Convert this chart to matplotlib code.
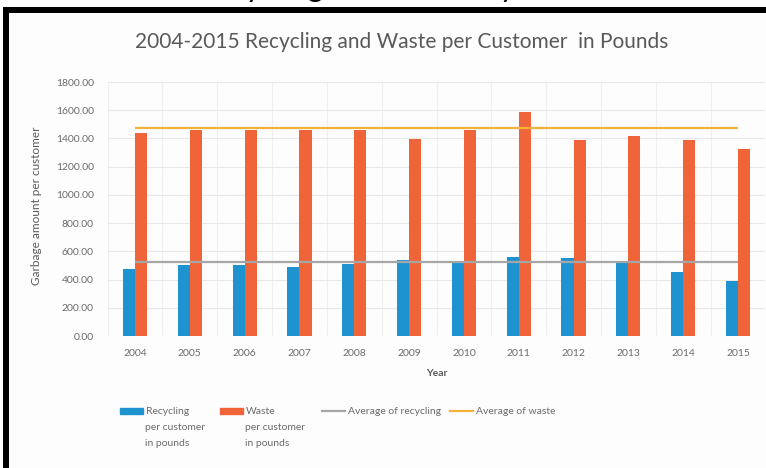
import matplotlib
matplotlib.use("Agg")
import matplotlib.pyplot as plt
from matplotlib.patches import Rectangle, Patch
from matplotlib.lines import Line2D
import numpy as np

plt.rcParams['font.family'] = ['Lato', 'DejaVu Sans']

years = ["2004", "2005", "2006", "2007", "2008", "2009",
         "2010", "2011", "2012", "2013", "2014", "2015"]
recycling = [477, 505, 500, 490, 510, 540, 520, 562, 555, 519, 455, 391]
waste = [1437, 1458, 1458, 1458, 1458, 1394, 1458, 1586, 1387, 1415, 1387, 1323]
avg_recycling = 522
avg_waste = 1476
y_ticks = [0, 200, 400, 600, 800, 1000, 1200, 1400, 1600, 1800]

W, H = 766, 468
BLUE = "#1f93d0"
ORANGE = "#f0643a"
GRAY_LINE = "#a6a6a6"
YELLOW = "#f5b23a"
TXT = "#6b6b6b"

fig = plt.figure(figsize=(W / 100, H / 100), dpi=100)
fig.patch.set_facecolor("white")

def box(x0, y0, x1, y1):
    # pixel box (top-left origin) -> figure coords
    return (x0 / W, 1 - y1 / H, (x1 - x0) / W, (y1 - y0) / H)

# caption above the screenshot frame, cut off at the top like the reference
fig.text(390 / W, 1 + 2.5 / H, "Recycling and Waste by Year", ha="center",
         va="baseline", fontsize=22, color="black")

# black frame of the screenshot
x, y, w, h = box(9, 13, 766, 468)
fig.patches.append(Rectangle((x, y), w, h, transform=fig.transFigure,
                             facecolor="#fdfdfd", edgecolor="none", zorder=-10))
x, y, w, h = box(3, 7, 766, 13)
fig.patches.append(Rectangle((x, y), w, h, transform=fig.transFigure,
                             facecolor="black", edgecolor="none", zorder=5))
x, y, w, h = box(3, 7, 9, 468)
fig.patches.append(Rectangle((x, y), w, h, transform=fig.transFigure,
                             facecolor="black", edgecolor="none", zorder=5))

ax = fig.add_axes(box(107.6, 82, 765.4, 336))
ax.set_facecolor("none")
xs = np.arange(len(years))
bw = 0.22
ax.bar(xs - bw / 2, recycling, bw, color=BLUE, zorder=3)
ax.bar(xs + bw / 2, waste, bw, color=ORANGE, zorder=3)
ax.hlines(avg_recycling, xs[0], xs[-1], color=GRAY_LINE, lw=1.6, zorder=4)
ax.hlines(avg_waste, xs[0], xs[-1], color=YELLOW, lw=1.6, zorder=4)

ax.set_xlim(-0.5, len(years) - 0.5)
ax.set_ylim(0, 1800)
ax.set_yticks(y_ticks)
ax.set_yticklabels([f"{v:.2f}" for v in y_ticks])
ax.set_xticks(xs)
ax.set_xticklabels(years)
ax.set_xticks(np.arange(-0.5, len(years), 1), minor=True)
ax.tick_params(axis="both", which="both", length=0, labelsize=7.5, labelcolor=TXT)
ax.tick_params(axis="y", pad=10)
ax.tick_params(axis="x", pad=9)
ax.grid(axis="y", which="major", color="#e8e8e8", lw=0.8, zorder=0)
ax.grid(axis="x", which="minor", color="#efefef", lw=0.8, zorder=0)
for s in ax.spines.values():
    s.set_visible(False)

fig.text(402 / W, 1 - 42 / H, "2004-2015 Recycling and Waste per Customer  in Pounds",
         ha="center", va="center", fontsize=15, color="#595959")
fig.text(437 / W, 1 - 373 / H, "Year", ha="center", va="center",
         fontsize=7.5, fontweight="bold", color="#595959")
fig.text(37 / W, 1 - 206 / H, "Garbage amount per customer", ha="center",
         va="center", rotation=90, fontsize=8.5, color="#595959")

# legend entries, one per slot like the Excel legend
entries = [
    (Patch(color=BLUE), "Recycling", 120, "per customer\nin pounds"),
    (Patch(color=ORANGE), "Waste", 220, "per customer\nin pounds"),
    (Line2D([], [], color=GRAY_LINE, lw=1.6), "Average of recycling", 322, None),
    (Line2D([], [], color=YELLOW, lw=1.6), "Average of waste", 450, None),
]
for handle, label, px, extra in entries:
    leg = fig.legend([handle], [label], loc="center left",
                     bbox_to_anchor=(px / W, 1 - 412 / H), frameon=False,
                     fontsize=7.5, labelcolor=TXT, handlelength=2.2,
                     handleheight=0.55, handletextpad=0.3, borderpad=0,
                     borderaxespad=0)
    if extra:
        fig.text((px + 25) / W, 1 - 423 / H, extra, ha="left", va="top",
                 fontsize=7.5, color=TXT, linespacing=2.0)

fig.savefig("out.png", dpi=100)
